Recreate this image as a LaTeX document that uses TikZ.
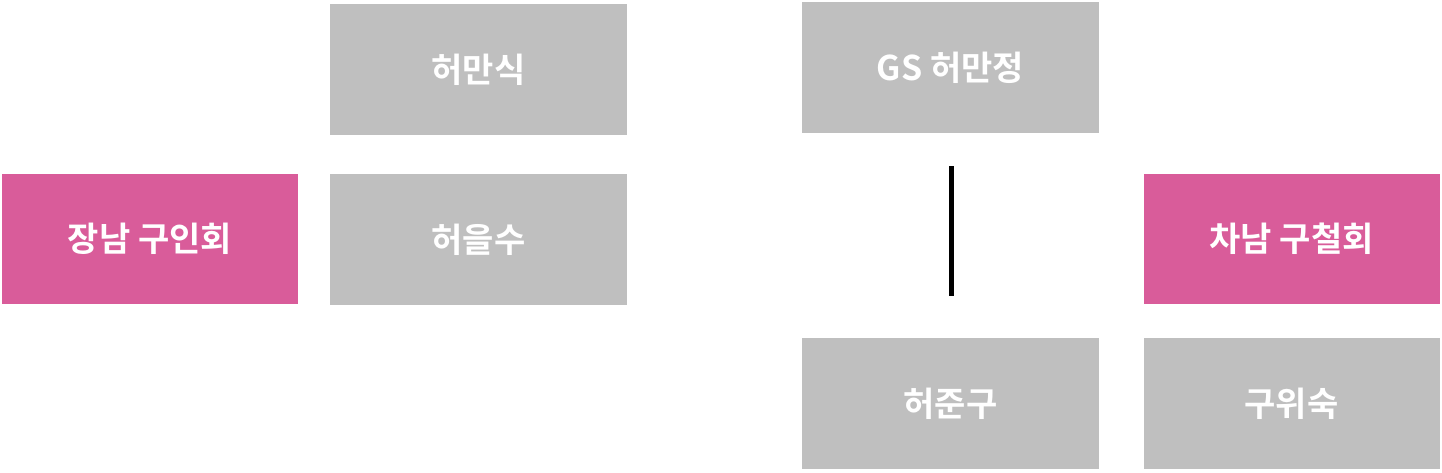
\documentclass[tikz,border=0pt]{standalone}
\usepackage{fontspec}
\newfontfamily\kr{Noto Sans CJK KR Bold}
\definecolor{boxgray}{HTML}{BFBFBF}
\definecolor{boxpink}{HTML}{D95C9A}
\tikzset{
  person/.style={minimum width=297pt, minimum height=131pt, inner sep=0pt, outer sep=0pt,
    text=white, font=\kr\fontsize{34}{40}\selectfont},
  grayp/.style={person, fill=boxgray},
  pinkp/.style={person, fill=boxpink},
}
\begin{document}
\begin{tikzpicture}[x=1pt,y=-1pt]
\useasboundingbox (0,0) rectangle (1442,472);
\node[grayp, minimum height=131pt] (mansik) at (478.5,69.5) {허만식};
\node[grayp] (manjeong) at (950.5,67.5) {GS 허만정};
\node[pinkp, minimum width=296pt, minimum height=130pt] (inhoe) at (150,239) {장남 구인회};
\node[grayp] (eulsu) at (478.5,239.5) {허을수};
\node[pinkp, minimum width=296pt, minimum height=130pt] (cheolhoe) at (1291.5,239) {차남 구철회};
\node[grayp] (jungu) at (950.5,403.5) {허준구};
\node[grayp, minimum width=296pt] (wisuk) at (1291.5,403.5) {구위숙};
\coordinate (ltop) at (951.5,166);
\coordinate (lbot) at (951.5,296);
\draw[line width=5.5pt] (ltop) -- (lbot);
\end{tikzpicture}
\end{document}
